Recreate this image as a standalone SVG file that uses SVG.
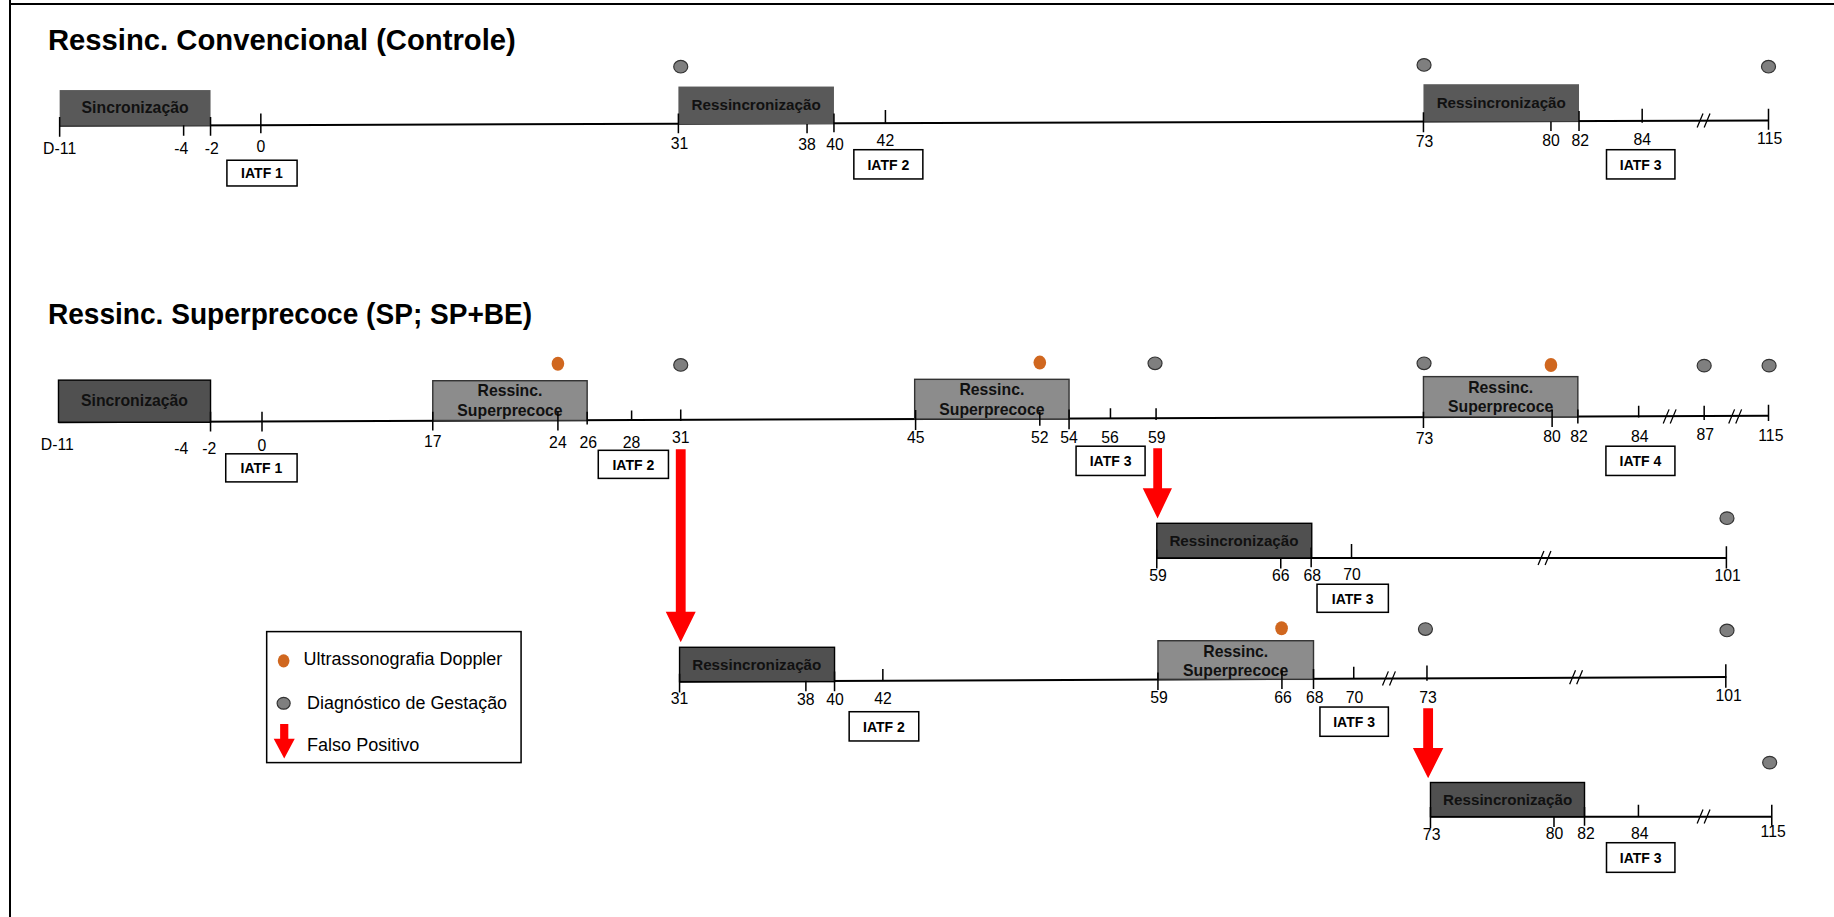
<svg xmlns="http://www.w3.org/2000/svg" width="1834" height="917" viewBox="0 0 1834 917">
<style>
.title{font-family:"Liberation Sans",Arial,sans-serif;font-weight:bold;font-size:25px;fill:#000}
.bt{font-family:"Liberation Sans",Arial,sans-serif;font-weight:bold;font-size:13px;fill:#111;text-anchor:middle}
.bs{font-family:"Liberation Sans",Arial,sans-serif;font-weight:bold;font-size:13.5px;fill:#111;text-anchor:middle}
.lab{font-family:"Liberation Sans",Arial,sans-serif;font-size:13.5px;fill:#000;text-anchor:middle}
.ia{font-family:"Liberation Sans",Arial,sans-serif;font-weight:bold;font-size:12px;fill:#000;text-anchor:middle}
.lg{font-family:"Liberation Sans",Arial,sans-serif;font-size:15.5px;fill:#000}
.tl{stroke:#000;stroke-width:1.7;fill:none}
.tk{stroke:#000;stroke-width:1.3;fill:none}
.brk{stroke:#000;stroke-width:1.1;fill:none}
.d1{fill:#595959}
.d2{fill:#505050;stroke:#000;stroke-width:1.2}
.lt{fill:#8c8c8c;stroke:#333;stroke-width:1.2}
.ib{fill:#fff;stroke:#000;stroke-width:1.3}
.gd{fill:#7f7f7f;stroke:#333;stroke-width:1}
.od{fill:#d0671f}
.ar{fill:#ff0000}
</style>
<g id="frame">
<line x1="10" y1="0" x2="10" y2="917" stroke="#000" stroke-width="2"/>
<line x1="10" y1="4" x2="1834" y2="4" stroke="#000" stroke-width="2"/>
</g>
<g transform="scale(1.169643)">
<g id="titles">
<text class="title" x="41" y="43">Ressinc. Convencional (Controle)</text>
<text class="title" x="41" y="277" textLength="414" lengthAdjust="spacingAndGlyphs">Ressinc. Superprecoce (SP; SP+BE)</text>
</g>

<!-- ROW 1 -->
<g id="row1">
<path class="tl" d="M51 107.5 L1512 103"/>
<g id="r1-sinc"><rect class="d1" x="51" y="77" width="129" height="30.5"/><text class="bs" x="115.5" y="97">Sincronização</text></g>
<g id="r1-res1"><rect class="d1" x="580" y="74" width="133" height="32"/><text class="bt" x="646.5" y="94">Ressincronização</text></g>
<g id="r1-res2"><rect class="d1" x="1217" y="72" width="133" height="32"/><text class="bt" x="1283.5" y="92">Ressincronização</text></g>
<path class="tk" d="M51 100V117 M157 107V116 M180 100V116 M223 97V114 M580 97V114 M690 106V114 M713 97V113 M757 94V106 M1217 96V113 M1326 104V112 M1350 95V112 M1404 93V105 M1512 93V111"/>
<path class="brk" d="M1451 109L1456 97 M1457 109L1462 97"/>
<text class="lab" x="51" y="132">D-11</text><text class="lab" x="155" y="132">-4</text><text class="lab" x="181" y="132">-2</text><text class="lab" x="223" y="130">0</text>
<text class="lab" x="581" y="127">31</text><text class="lab" x="690" y="128">38</text><text class="lab" x="714" y="128">40</text><text class="lab" x="757" y="125">42</text>
<text class="lab" x="1218" y="126">73</text><text class="lab" x="1326" y="125">80</text><text class="lab" x="1351" y="125">82</text><text class="lab" x="1404" y="124">84</text><text class="lab" x="1513" y="123">115</text>
<g id="r1-iatf1"><rect class="ib" x="194" y="137" width="60" height="22"/><text class="ia" x="224" y="152.5">IATF 1</text></g>
<g id="r1-iatf2"><rect class="ib" x="730" y="128" width="59" height="25"/><text class="ia" x="759.5" y="145">IATF 2</text></g>
<g id="r1-iatf3"><rect class="ib" x="1373.5" y="128" width="58.5" height="25"/><text class="ia" x="1402.7" y="145">IATF 3</text></g>
<ellipse class="gd" cx="582" cy="57" rx="6" ry="5.4"/>
<ellipse class="gd" cx="1217.5" cy="55.5" rx="6" ry="5.4"/>
<ellipse class="gd" cx="1512" cy="57" rx="6" ry="5.4"/>
</g>

<!-- ROW 2 -->
<g id="row2">
<path class="tl" d="M50 361 L1512 355.5"/>
<g id="r2-sinc"><rect class="d2" x="50" y="325" width="130" height="36"/><text class="bs" x="115" y="347.5">Sincronização</text></g>
<g id="r2-sp1"><rect class="lt" x="370" y="325.5" width="132" height="34"/><text class="bs" x="436" y="339">Ressinc.</text><text class="bs" x="436" y="355.5">Superprecoce</text></g>
<g id="r2-sp2"><rect class="lt" x="782" y="324.3" width="132" height="34"/><text class="bs" x="848" y="338">Ressinc.</text><text class="bs" x="848" y="354.5">Superprecoce</text></g>
<g id="r2-sp3"><rect class="lt" x="1217" y="322" width="132" height="34.5"/><text class="bs" x="1283" y="336">Ressinc.</text><text class="bs" x="1283" y="352.5">Superprecoce</text></g>
<path class="tk" d="M180 352V369 M224 352V369 M370 352V368 M477 352V368 M502 352V363 M540 351V360 M582 350V360 M782.8 350.6V367.6 M889 352V364 M914 350V367 M949.4 349V358 M988.4 349V359 M1217 352V366 M1327 350V365 M1349 350V362 M1401 347V357 M1457 347V359 M1512 346V360"/>
<path class="brk" d="M1422 362L1427 350 M1428 362L1433 350 M1478 362L1483 350 M1484 362L1489 350"/>
<text class="lab" x="49" y="385">D-11</text><text class="lab" x="155" y="388">-4</text><text class="lab" x="179" y="388">-2</text><text class="lab" x="224" y="386">0</text>
<text class="lab" x="370" y="382">17</text><text class="lab" x="477" y="383">24</text><text class="lab" x="503" y="383">26</text><text class="lab" x="540" y="383">28</text><text class="lab" x="582" y="379">31</text>
<text class="lab" x="783" y="379">45</text><text class="lab" x="889" y="379">52</text><text class="lab" x="914" y="379">54</text><text class="lab" x="949" y="379">56</text><text class="lab" x="989" y="379">59</text>
<text class="lab" x="1218" y="380">73</text><text class="lab" x="1327" y="378">80</text><text class="lab" x="1350" y="378">82</text><text class="lab" x="1402" y="378">84</text><text class="lab" x="1458" y="376">87</text><text class="lab" x="1514" y="377">115</text>
<g id="r2-iatf1"><rect class="ib" x="193" y="388" width="61" height="24"/><text class="ia" x="223.5" y="404.5">IATF 1</text></g>
<g id="r2-iatf2"><rect class="ib" x="511.5" y="385" width="60" height="24"/><text class="ia" x="541.5" y="401.5">IATF 2</text></g>
<g id="r2-iatf3"><rect class="ib" x="920" y="381.5" width="59" height="25"/><text class="ia" x="949.5" y="398.5">IATF 3</text></g>
<g id="r2-iatf4"><rect class="ib" x="1373" y="381.5" width="59" height="25"/><text class="ia" x="1402.5" y="398.5">IATF 4</text></g>
<ellipse class="od" cx="477" cy="311" rx="5.4" ry="6"/>
<ellipse class="gd" cx="582" cy="312" rx="6" ry="5.4"/>
<ellipse class="od" cx="889" cy="310" rx="5.4" ry="6"/>
<ellipse class="gd" cx="987.5" cy="310.6" rx="6" ry="5.4"/>
<ellipse class="gd" cx="1217.5" cy="310.6" rx="6" ry="5.4"/>
<ellipse class="od" cx="1326" cy="312" rx="5.4" ry="6"/>
<ellipse class="gd" cx="1457" cy="312.6" rx="6" ry="5.4"/>
<ellipse class="gd" cx="1512.5" cy="312.6" rx="6" ry="5.4"/>
</g>

<!-- ROW 3 -->
<g id="row3">
<path class="tl" d="M989 477 L1476 477"/>
<g id="r3-res"><rect class="d2" x="989" y="447.4" width="132.5" height="29.6"/><text class="bt" x="1055" y="467">Ressincronização</text></g>
<path class="tk" d="M989 470V486 M1095 477V486 M1121 468V485 M1155.5 465V477 M1476 467V486"/>
<path class="brk" d="M1315 483L1320 471 M1321 483L1326 471"/>
<text class="lab" x="990" y="497">59</text><text class="lab" x="1095" y="497">66</text><text class="lab" x="1122" y="497">68</text><text class="lab" x="1156" y="496">70</text><text class="lab" x="1477" y="497">101</text>
<g id="r3-iatf3"><rect class="ib" x="1126" y="499.5" width="61" height="24"/><text class="ia" x="1156.5" y="516">IATF 3</text></g>
<ellipse class="gd" cx="1476.5" cy="443" rx="6" ry="5.4"/>
</g>

<!-- ROW 4 -->
<g id="row4">
<path class="tl" d="M581 582.8 L1476 578.8"/>
<g id="r4-res"><rect class="d2" x="581" y="553.4" width="132.5" height="29.4"/><text class="bt" x="647" y="572.5">Ressincronização</text></g>
<g id="r4-sp"><rect class="lt" x="990" y="547.8" width="133" height="33"/><text class="bs" x="1056.5" y="561.5">Ressinc.</text><text class="bs" x="1056.5" y="578">Superprecoce</text></g>
<path class="tk" d="M581 576V592 M689 582V591 M713.5 574V591 M754.8 572V582 M990 575V590 M1096 573V589 M1123 572V589 M1157.4 570V580 M1220 569V582 M1475.5 568V588"/>
<path class="brk" d="M1182 586L1187 574 M1188 586L1193 574 M1342 585L1347 573 M1348 585L1353 573"/>
<text class="lab" x="581" y="602">31</text><text class="lab" x="689" y="603">38</text><text class="lab" x="714" y="603">40</text><text class="lab" x="755" y="602">42</text>
<text class="lab" x="991" y="601">59</text><text class="lab" x="1097" y="601">66</text><text class="lab" x="1124" y="601">68</text><text class="lab" x="1158" y="601">70</text><text class="lab" x="1221" y="601">73</text><text class="lab" x="1478" y="599">101</text>
<g id="r4-iatf2"><rect class="ib" x="726" y="608.5" width="59.5" height="25"/><text class="ia" x="755.7" y="625.5">IATF 2</text></g>
<g id="r4-iatf3"><rect class="ib" x="1128.5" y="604.5" width="58.5" height="25"/><text class="ia" x="1157.7" y="621.5">IATF 3</text></g>
<ellipse class="od" cx="1095.7" cy="537.2" rx="5.4" ry="6"/>
<ellipse class="gd" cx="1218.7" cy="537.8" rx="6" ry="5.4"/>
<ellipse class="gd" cx="1476.5" cy="539" rx="6" ry="5.4"/>
</g>

<!-- ROW 5 -->
<g id="row5">
<path class="tl" d="M1223 698.2 L1514.8 698.2"/>
<g id="r5-res"><rect class="d2" x="1223" y="669" width="131.7" height="29.2"/><text class="bt" x="1289" y="688.5">Ressincronização</text></g>
<path class="tk" d="M1223 690V708 M1328.6 698V707 M1354.7 690V706 M1400.8 688V698 M1514.8 688V706"/>
<path class="brk" d="M1451 704L1456 692 M1457 704L1462 692"/>
<text class="lab" x="1224" y="718">73</text><text class="lab" x="1329" y="717">80</text><text class="lab" x="1356" y="717">82</text><text class="lab" x="1402" y="717">84</text><text class="lab" x="1516" y="716">115</text>
<g id="r5-iatf3"><rect class="ib" x="1373.5" y="720.5" width="58.5" height="25.3"/><text class="ia" x="1402.7" y="737.5">IATF 3</text></g>
<ellipse class="gd" cx="1513" cy="652" rx="6" ry="5.4"/>
</g>

<!-- connectors: false-positive arrows -->
<g id="connectors">
<polygon class="ar" points="577.8,384 586.2,384 586.2,523 594.8,523 582,549 569.2,523 577.8,523"/>
<polygon class="ar" points="986,383.3 993.5,383.3 993.5,417.5 1002,417.5 989.7,443.2 977,417.5 986,417.5"/>
<polygon class="ar" points="1216.8,605.5 1225.2,605.5 1225.2,639.6 1234,639.6 1221,665.3 1208,639.6 1216.8,639.6"/>
</g>

<!-- legend -->
<g id="legend">
<rect x="228" y="540" width="217.5" height="112" fill="#fff" stroke="#000" stroke-width="1.3"/>
<ellipse class="od" cx="242.5" cy="565" rx="5" ry="5.6"/>
<text class="lg" x="259.5" y="568.5" textLength="170" lengthAdjust="spacingAndGlyphs">Ultrassonografia Doppler</text>
<ellipse class="gd" cx="242.5" cy="601.3" rx="5.6" ry="5"/>
<text class="lg" x="262.5" y="606.5" textLength="171" lengthAdjust="spacingAndGlyphs">Diagnóstico de Gestação</text>
<polygon class="ar" points="239.5,619 246.5,619 246.5,631.5 252,631.5 243,648.5 234,631.5 239.5,631.5"/>
<text class="lg" x="262.5" y="642.5" textLength="96" lengthAdjust="spacingAndGlyphs">Falso Positivo</text>
</g>
</g>
</svg>
